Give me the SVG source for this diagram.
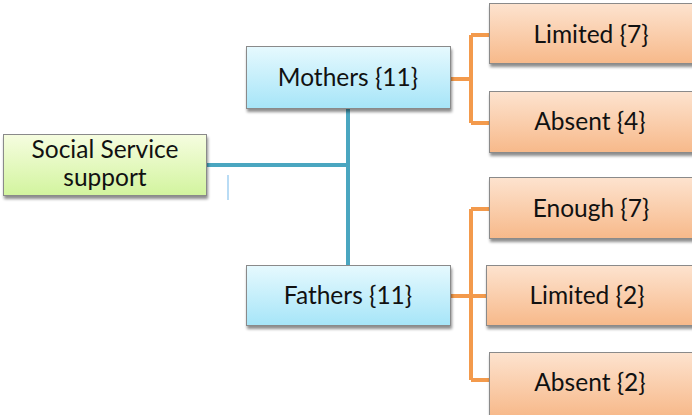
<svg xmlns="http://www.w3.org/2000/svg" width="692" height="415" viewBox="0 0 692 415">
  <defs>
    <linearGradient id="gBlue" x1="0" y1="0" x2="0" y2="1">
      <stop offset="0" stop-color="#e6f9fe"/>
      <stop offset="1" stop-color="#a6e5f8"/>
    </linearGradient>
    <linearGradient id="gGreen" x1="0" y1="0" x2="0" y2="1">
      <stop offset="0" stop-color="#f6fde0"/>
      <stop offset="1" stop-color="#d2f49e"/>
    </linearGradient>
    <linearGradient id="gOrange" x1="0" y1="0" x2="0" y2="1">
      <stop offset="0" stop-color="#fde3cf"/>
      <stop offset="1" stop-color="#f7b98a"/>
    </linearGradient>
    <filter id="shadow" x="-10%" y="-10%" width="125%" height="140%">
      <feGaussianBlur in="SourceAlpha" stdDeviation="1.5"/>
      <feOffset dx="1" dy="2.5" result="b"/>
      <feComponentTransfer><feFuncA type="linear" slope="0.45"/></feComponentTransfer>
      <feMerge><feMergeNode/><feMergeNode in="SourceGraphic"/></feMerge>
    </filter>
  </defs>
  <style>
    .box { stroke: #8a8a8a; stroke-width: 1; filter: url(#shadow); }
    .lbl { font-family: Lato, "Open Sans", "Liberation Sans", sans-serif; font-size: 24.5px; fill: #111; text-anchor: middle; }
    .blue { fill: none; stroke: #4aa6c0; stroke-width: 4; }
    .orange { fill: none; stroke: #f39a4c; stroke-width: 4; }
  </style>

  <rect width="692" height="415" fill="#ffffff"/>

  <!-- connectors -->
  <g id="connectors">
    <path class="blue" d="M207 165 H348 M348 109 V265"/>
    <path d="M228 175 V200" stroke="#b9dcf5" stroke-width="2" fill="none"/>
    <path class="orange" d="M451 79 H471 M471 35 V123 M471 35 H489 M471 123 H489"/>
    <path class="orange" d="M451 296 H471 M471 209 V380 M471 209 H489 M471 296 H487 M471 380 H489"/>
  </g>

  <g id="social">
    <rect class="box" x="3.5" y="134.5" width="203" height="61" fill="url(#gGreen)"/>
    <text class="lbl" x="105" y="158">Social Service</text>
    <text class="lbl" x="105" y="186">support</text>
  </g>

  <g id="mothers">
    <rect class="box" x="246.5" y="46.5" width="204" height="62" fill="url(#gBlue)"/>
    <text class="lbl" x="348" y="86">Mothers {11}</text>
  </g>

  <g id="fathers">
    <rect class="box" x="246.5" y="265.5" width="204" height="60" fill="url(#gBlue)"/>
    <text class="lbl" x="348" y="304">Fathers {11}</text>
  </g>

  <g id="m-limited">
    <rect class="box" x="489.5" y="3.5" width="205" height="60" fill="url(#gOrange)"/>
    <text class="lbl" x="591" y="43">Limited {7}</text>
  </g>

  <g id="m-absent">
    <rect class="box" x="489.5" y="91.5" width="205" height="61" fill="url(#gOrange)"/>
    <text class="lbl" x="590" y="130">Absent {4}</text>
  </g>

  <g id="f-enough">
    <rect class="box" x="489.5" y="177.5" width="205" height="61" fill="url(#gOrange)"/>
    <text class="lbl" x="591" y="217">Enough {7}</text>
  </g>

  <g id="f-limited">
    <rect class="box" x="486.5" y="265.5" width="208" height="60" fill="url(#gOrange)"/>
    <text class="lbl" x="587" y="304">Limited {2}</text>
  </g>

  <g id="f-absent">
    <rect class="box" x="489.5" y="352.5" width="205" height="64" fill="url(#gOrange)"/>
    <text class="lbl" x="590" y="391">Absent {2}</text>
  </g>
</svg>
